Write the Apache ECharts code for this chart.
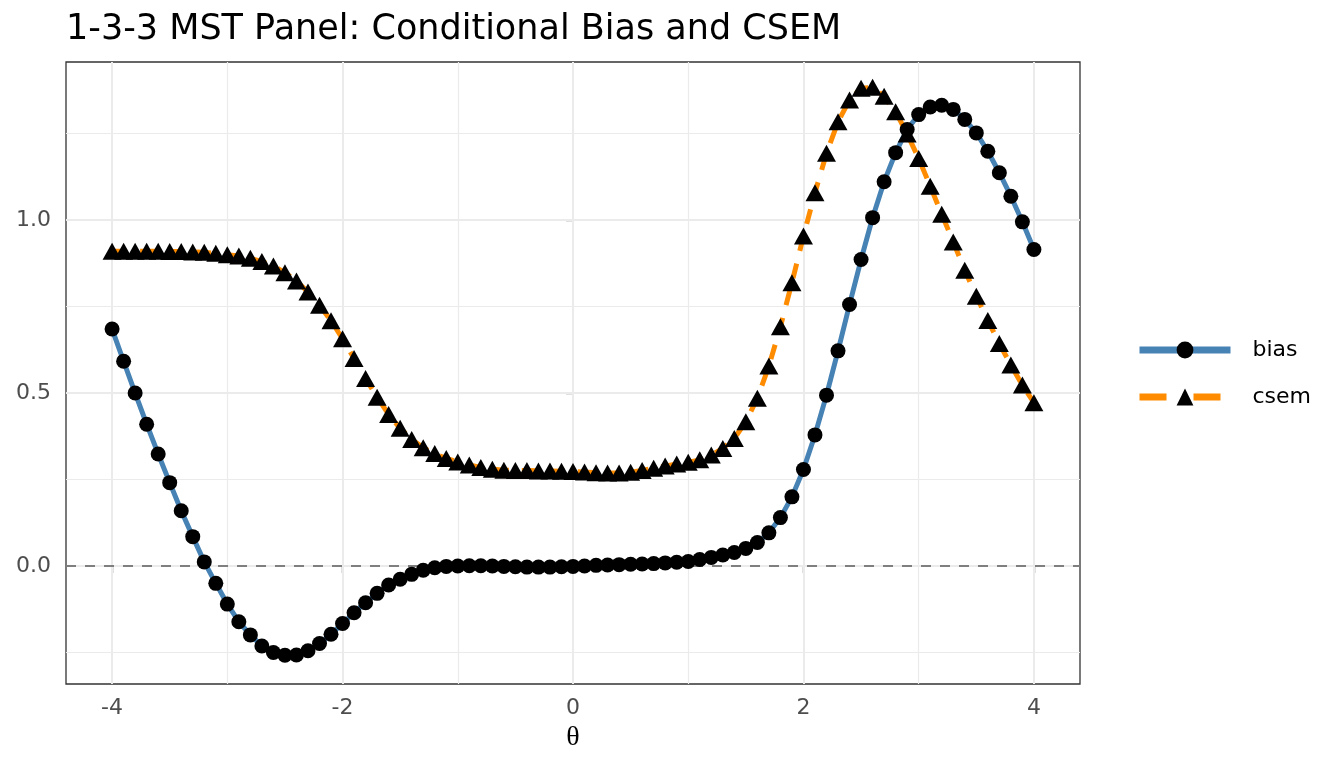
<!DOCTYPE html>
<html>
<head>
<meta charset="utf-8">
<script src="https://cdn.jsdelivr.net/npm/echarts@6/dist/echarts.min.js"></script>
<style>html,body{margin:0;padding:0;background:#fff}#main{width:1344px;height:768px}</style>
</head>
<body>
<div id="main"></div>
<script>
var theta = [-4.0,-3.9,-3.8,-3.7,-3.6,-3.5,-3.4,-3.3,-3.2,-3.1,-3.0,-2.9,-2.8,-2.7,-2.6,-2.5,-2.4,-2.3,-2.2,-2.1,
    -2.0,-1.9,-1.8,-1.7,-1.6,-1.5,-1.4,-1.3,-1.2,-1.1,-1.0,-0.9,-0.8,-0.7,-0.6,-0.5,-0.4,-0.3,-0.2,-0.1,
    0.0,0.1,0.2,0.3,0.4,0.5,0.6,0.7,0.8,0.9,1.0,1.1,1.2,1.3,1.4,1.5,1.6,1.7,1.8,1.9,
    2.0,2.1,2.2,2.3,2.4,2.5,2.6,2.7,2.8,2.9,3.0,3.1,3.2,3.3,3.4,3.5,3.6,3.7,3.8,3.9,4.0];
var bias = [0.685,0.592,0.500,0.410,0.324,0.241,0.160,0.085,0.012,-0.050,-0.110,-0.161,-0.199,-0.231,-0.250,-0.258,-0.257,-0.245,-0.224,-0.197,
    -0.166,-0.135,-0.106,-0.079,-0.055,-0.038,-0.024,-0.012,-0.005,-0.001,0.000,0.001,0.001,0.000,-0.001,-0.002,-0.003,-0.003,-0.003,-0.002,
    -0.001,0.000,0.002,0.003,0.004,0.005,0.006,0.007,0.009,0.011,0.013,0.019,0.025,0.032,0.039,0.051,0.068,0.096,0.140,0.200,
    0.279,0.379,0.494,0.622,0.756,0.886,1.007,1.111,1.195,1.262,1.305,1.327,1.332,1.320,1.291,1.252,1.199,1.137,1.069,0.995,0.915];
var csem = [0.910,0.910,0.910,0.910,0.910,0.909,0.909,0.908,0.907,0.904,0.900,0.896,0.890,0.880,0.867,0.848,0.824,0.792,0.754,0.709,
    0.657,0.600,0.542,0.488,0.438,0.398,0.366,0.342,0.325,0.311,0.301,0.292,0.285,0.280,0.277,0.276,0.276,0.275,0.275,0.274,
    0.273,0.272,0.270,0.269,0.269,0.271,0.276,0.283,0.289,0.295,0.300,0.307,0.321,0.340,0.369,0.417,0.485,0.578,0.692,0.819,
    0.954,1.079,1.193,1.284,1.347,1.381,1.384,1.358,1.313,1.249,1.178,1.098,1.017,0.937,0.855,0.780,0.710,0.643,0.581,0.523,0.472];
var xTicks = [-4, -2, 0, 2, 4];
var xMinor = [-3, -1, 1, 3];
var yTicks = [0, 0.5, 1.0];
var yMinor = [-0.25, 0.25, 0.75, 1.25];

var chart = echarts.init(document.getElementById('main'));
var font = 'DejaVu Sans';

function pairs(ys) {
    return theta.map(function (t, i) { return [t, ys[i]]; });
}

var gridLines = [];
xMinor.forEach(function (v) { gridLines.push({xAxis: v, lineStyle: {color: '#EBEBEB', width: 1.2, type: 'solid'}}); });
yMinor.forEach(function (v) { gridLines.push({yAxis: v, lineStyle: {color: '#EBEBEB', width: 1.2, type: 'solid'}}); });
xTicks.forEach(function (v) { gridLines.push({xAxis: v, lineStyle: {color: '#EBEBEB', width: 2, type: 'solid'}}); });
yTicks.forEach(function (v) { gridLines.push({yAxis: v, lineStyle: {color: '#EBEBEB', width: 2, type: 'solid'}}); });

var option = {
    animation: false,
    backgroundColor: '#fff',
    title: {
        text: '1-3-3 MST Panel: Conditional Bias and CSEM',
        left: 61, top: 7,
        textStyle: {fontFamily: font, fontSize: 35, fontWeight: 'normal', color: '#000'}
    },
    legend: {
        data: [
            {name: 'bias', lineStyle: {width: 7, color: '#4682B4', type: 'solid'}, itemStyle: {color: '#000'}},
            {name: 'csem', lineStyle: {width: 7, color: '#FF8C00', type: [27, 27]}, itemStyle: {color: '#000'}}
        ],
        orient: 'vertical',
        left: 1131, top: 334,
        itemWidth: 91, itemHeight: 21, itemGap: 25,
        textStyle: {fontFamily: font, fontSize: 22, color: '#000', lineHeight: 21, padding: [0, 0, 0, 17]}
    },
    grid: {
        left: 66, right: 264, top: 62, bottom: 84,
        show: true, borderColor: '#333333', borderWidth: 1.3, backgroundColor: 'transparent'
    },
    xAxis: {
        type: 'value', min: -4.4, max: 4.4,
        name: 'θ', nameLocation: 'middle', nameGap: 40,
        nameTextStyle: {fontFamily: 'Liberation Serif', fontSize: 28, color: '#000'},
        axisLine: {show: false},
        axisTick: {show: true, length: 7, customValues: xTicks, lineStyle: {color: '#333333', width: 1.3}},
        axisLabel: {customValues: xTicks, margin: 13, fontFamily: font, fontSize: 22, color: '#4D4D4D',
            formatter: function (v) { return String(v); }},
        splitLine: {show: false}
    },
    yAxis: {
        type: 'value', min: -0.341, max: 1.457,
        axisLine: {show: false},
        axisTick: {show: true, length: 7, customValues: yTicks, lineStyle: {color: '#333333', width: 1.3}},
        axisLabel: {customValues: yTicks, margin: 15, fontFamily: font, fontSize: 22, color: '#4D4D4D',
            formatter: function (v) { return v.toFixed(1); }},
        splitLine: {show: false}
    },
    series: [
        {
            name: 'grid', type: 'line', data: [], z: 1, silent: true,
            markLine: {z: 1, silent: true, symbol: ['none', 'none'], label: {show: false}, animation: false, data: gridLines}
        },
        {
            name: 'zero', type: 'line', data: [], z: 2, silent: true,
            markLine: {z: 2, silent: true, symbol: ['none', 'none'], label: {show: false}, animation: false,
                data: [{yAxis: 0, lineStyle: {color: '#7F7F7F', width: 2, type: [10, 9]}}]}
        },
        {
            name: 'bias', type: 'line', data: pairs(bias), z: 3,
            symbol: 'circle', symbolSize: 15, showSymbol: false,
            itemStyle: {color: '#000'},
            lineStyle: {color: '#4682B4', width: 5, type: 'solid'}
        },
        {
            name: 'csem', type: 'line', data: pairs(csem), z: 3,
            symbol: 'triangle', symbolSize: 15, showSymbol: false,
            itemStyle: {color: '#000'},
            lineStyle: {color: '#FF8C00', width: 5, type: [15, 13]}
        },
        {
            name: 'biasPts', type: 'scatter', data: pairs(bias), z: 4,
            symbol: 'circle', symbolSize: 15, itemStyle: {color: '#000', opacity: 1}
        },
        {
            name: 'csemPts', type: 'scatter', data: pairs(csem), z: 4,
            symbol: 'triangle', symbolSize: [19, 17], itemStyle: {color: '#000', opacity: 1}
        }
    ]
};
chart.setOption(option);
</script>
</body>
</html>
